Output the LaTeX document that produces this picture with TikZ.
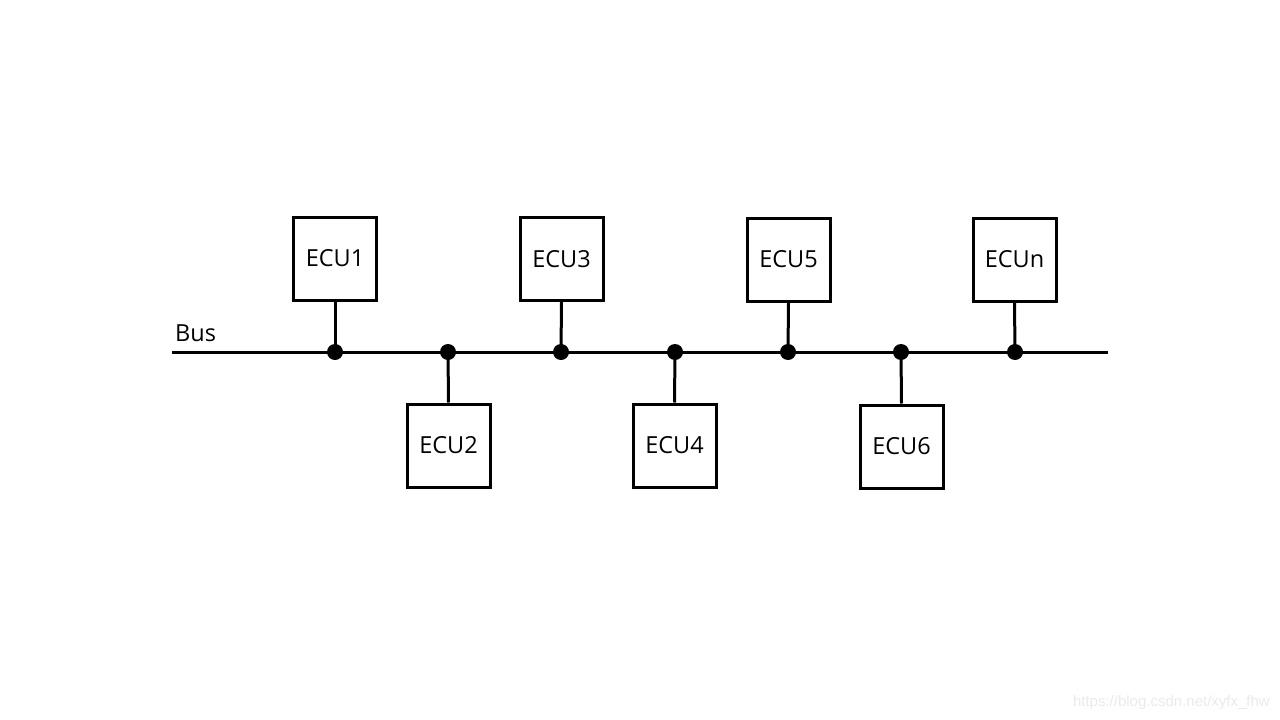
\documentclass[tikz,border=0pt]{standalone}
\usepackage{fontspec}
\setmainfont{Open Sans}
\newfontfamily\wmfont{Liberation Sans}
\begin{document}
\begin{tikzpicture}[x=1pt,y=-1pt,
  ecubox/.style={draw,line width=3pt,minimum width=83pt,minimum height=83pt,inner sep=0pt,font=\fontsize{23.5}{28}\selectfont},
  wire/.style={line width=3pt},
  tap/.style={circle,fill=black,inner sep=0pt,minimum size=16pt}]
\useasboundingbox (0,0) rectangle (1280,720);
\fill[white] (0,0) rectangle (1280,720);
% bus ends
\coordinate (busL) at (172,352);
\coordinate (busR) at (1108,352);
\draw[wire] (busL) -- (busR);
\node[anchor=base west,font=\fontsize{23.5}{28}\selectfont,inner sep=0pt] (bus) at (175,341) {Bus};
% taps
\foreach \n/\x in {1/335,2/448,3/561,4/675,5/788,6/901,7/1015}
  \node[tap] (t\n) at (\x,352) {};
% boxes
\node[ecubox] (e1) at (335,258.5) {ECU1};
\node[ecubox] (e2) at (448.5,445.5) {ECU2};
\node[ecubox] (e3) at (561.5,259) {ECU3};
\node[ecubox] (e4) at (674.5,445.5) {ECU4};
\node[ecubox] (e5) at (788.5,259.5) {ECU5};
\node[ecubox] (e6) at (901.5,446.5) {ECU6};
\node[ecubox] (en) at (1014.5,259.5) {ECUn};
% stubs
\draw[wire] (e1.south) -- (t1.center);
\draw[wire] (e2.north) -- (t2.center);
\draw[wire] (e3.south) -- (t3.center);
\draw[wire] (e4.north) -- (t4.center);
\draw[wire] (e5.south) -- (t5.center);
\draw[wire] (e6.north) -- (t6.center);
\draw[wire] (en.south) -- (t7.center);
% watermark
\node[anchor=east,text=black!8,font=\fontsize{15}{17}\wmfont,inner sep=0pt] (wm) at (1270,703) {https://blog.csdn.net/xyfx\_fhw};
\end{tikzpicture}
\end{document}
